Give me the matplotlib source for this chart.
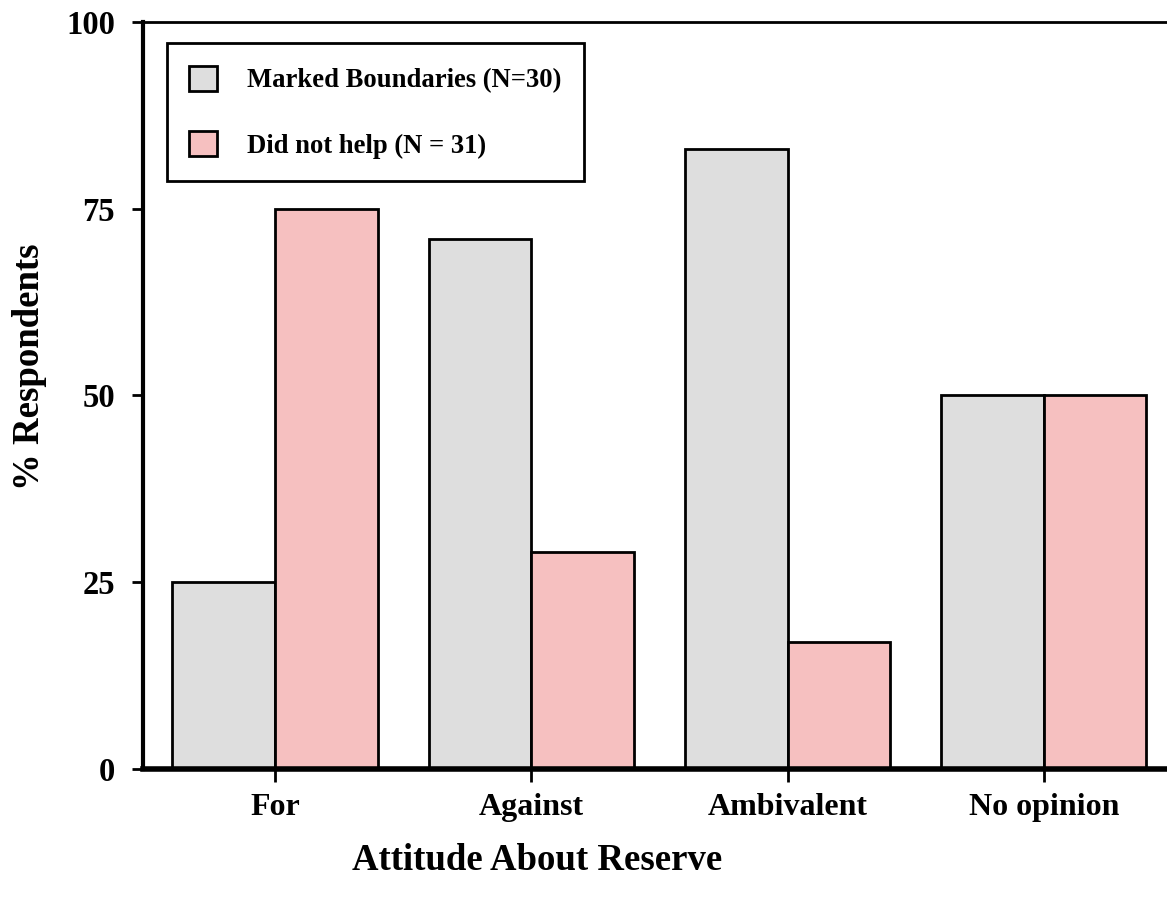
import matplotlib.pyplot as plt
import numpy as np
from matplotlib.patches import Patch

categories = ["For", "Against", "Ambivalent", "No opinion"]
marked = [25, 71, 83, 50]
did_not_help = [75, 29, 17, 50]
series_labels = ["Marked Boundaries (N=30)", "Did not help (N = 31)"]
yticks = [0, 25, 50, 75, 100]

GREY = "#dedede"
PINK = "#f6c0c0"

plt.rcParams["font.family"] = ["Liberation Serif", "DejaVu Serif"]
plt.rcParams["font.weight"] = "bold"

fig = plt.figure(figsize=(11.67, 8.98), dpi=100)
ax = fig.add_axes([0.1225, 0.1437, 0.8775, 0.8318])

x = np.arange(len(categories))
w = 0.4
ax.bar(x - w / 2, marked, w, color=GREY, edgecolor="black", linewidth=2)
ax.bar(x + w / 2, did_not_help, w, color=PINK, edgecolor="black", linewidth=2)

ax.set_xlim(-0.515, 3.48)
ax.set_ylim(0, 100)
ax.set_xticks(x)
ax.set_xticklabels(categories, fontsize=23, fontweight="bold")
ax.set_yticks(yticks)
ax.set_yticklabels([str(t) for t in yticks], fontsize=23.5, fontweight="bold")
ax.tick_params(axis="y", direction="out", length=8, width=2, pad=12)
ax.tick_params(axis="x", direction="out", length=9, width=2, pad=8)

ax.spines["right"].set_visible(False)
ax.spines["left"].set_linewidth(3)
ax.spines["top"].set_linewidth(2)
ax.spines["bottom"].set_linewidth(4)

fig.text(30 / 1167, 1 - 367 / 898, "% Respondents", rotation=90, ha="center",
         va="center", fontsize=26.5, fontweight="bold")
fig.text(537 / 1167, 1 - 860 / 898, "Attitude About Reserve", ha="center",
         va="center", fontsize=26.5, fontweight="bold")

handles = [Patch(facecolor=GREY, edgecolor="black", linewidth=2),
           Patch(facecolor=PINK, edgecolor="black", linewidth=2)]
leg = ax.legend(handles, series_labels, loc="upper left", bbox_to_anchor=(0.023, 0.972),
                prop={"size": 19.2, "weight": "bold"}, frameon=True, fancybox=False,
                framealpha=1, edgecolor="black", borderpad=0.85, labelspacing=1.4,
                handlelength=1.06, handleheight=1.1, handletextpad=1.12, borderaxespad=0)
leg.get_frame().set_linewidth(2)

fig.savefig("out.png", dpi=100)
